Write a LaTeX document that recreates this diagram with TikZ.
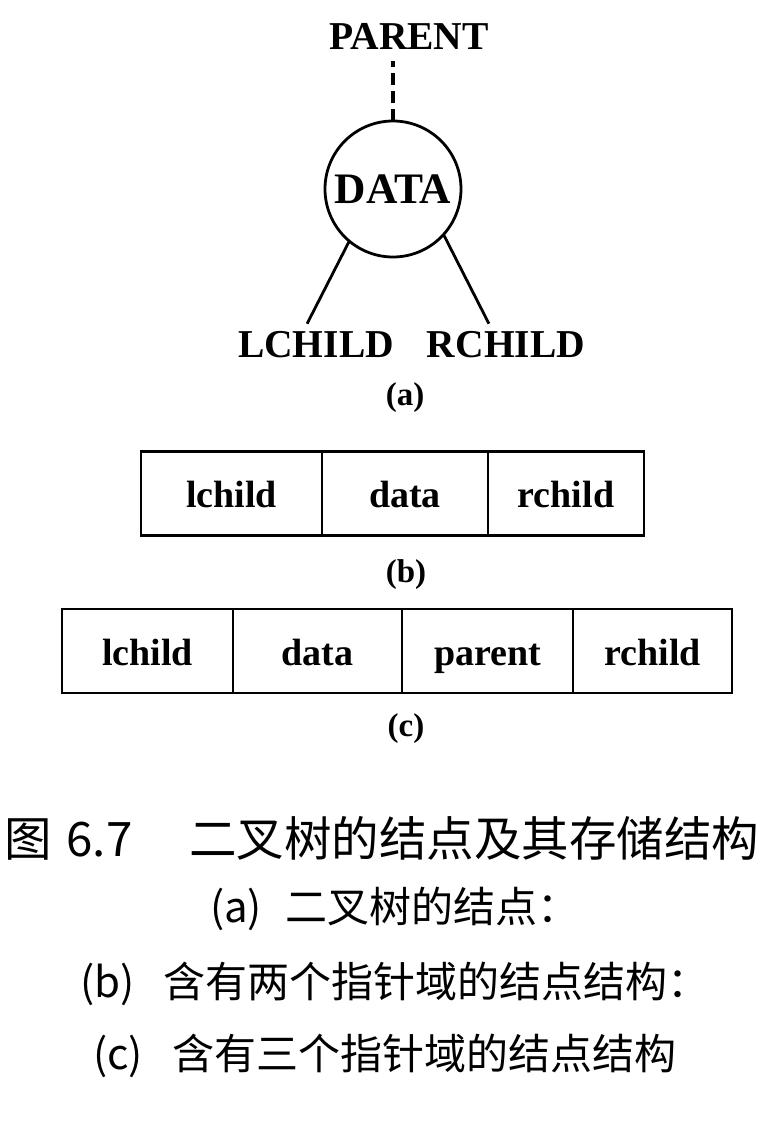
\documentclass[tikz,border=0pt]{standalone}
\usepackage{fontspec}
\setmainfont{Liberation Serif}
\newfontfamily\cjk{Noto Sans CJK SC}

\begin{document}
\begin{tikzpicture}
  [x=1pt,y=-1pt,line width=2.8pt,
   every node/.style={inner sep=0pt,outer sep=0pt},
   lbl/.style={font=\fontsize{39.5}{42}\selectfont\bfseries},
   sub/.style={font=\fontsize{33}{35}\selectfont\bfseries},
   cell/.style={draw,minimum height=84pt,text height=28pt,text depth=0pt,
                font=\fontsize{38}{40}\selectfont\bfseries},
   captext/.style={anchor=base west,font=\cjk\fontsize{42}{44}\selectfont}]
  \useasboundingbox (0,0) rectangle (763,1124);

  % (a) the tree node
  \node[lbl] (parent) at (409,36) {PARENT};
  \node[circle,draw,minimum size=136pt,font=\fontsize{43.5}{46}\selectfont\bfseries]
    (data) at (393,189) {DATA};
  \node[lbl] (lchild) at (316,345) {LCHILD};
  \node[lbl] (rchild) at (506,345) {RCHILD};
  \node[sub] (la) at (405,398) {(a)};

  \draw[line width=3.4pt,dash pattern=on 12pt off 6pt,shorten >=12pt]
    (data.north) -- (data.north |- parent.south);
  \draw[shorten >=9pt] (data.230) -- ([xshift=-13pt]lchild.north);
  \draw[shorten >=9pt] (data.318) -- ([xshift=-13pt]rchild.north);

  % (b) two pointer fields
  \node[cell,minimum width=181pt] (b1) at (231.5,493.5) {lchild};
  \node[cell,minimum width=166pt] (b2) at (405,493.5)   {data};
  \node[cell,minimum width=156pt] (b3) at (566,493.5)   {rchild};
  \node[sub] (lb) at (406,575) {(b)};

  % (c) three pointer fields
  \node[cell,minimum width=171pt] (c1) at (147.5,651) {lchild};
  \node[cell,minimum width=169pt] (c2) at (317.5,651) {data};
  \node[cell,minimum width=171pt] (c3) at (487.5,651) {parent};
  \node[cell,minimum width=159pt] (c4) at (652.5,651) {rchild};
  \node[sub] (lc) at (406,729) {(c)};

  % caption
  \node[captext,font=\cjk\fontsize{47.5}{50}\selectfont] (title) at (5,856)
    {图\hspace{14pt}6.7\hspace{57pt}二叉树的结点及其存储结构};
  \node[captext] (capa) at (210,922) {(a)\hspace{23pt}二叉树的结点：};
  \node[captext] (capb) at (80,997)  {(b)\hspace{29pt}含有两个指针域的结点结构：};
  \node[captext] (capc) at (93,1069) {(c)\hspace{30pt}含有三个指针域的结点结构};
\end{tikzpicture}
\end{document}
